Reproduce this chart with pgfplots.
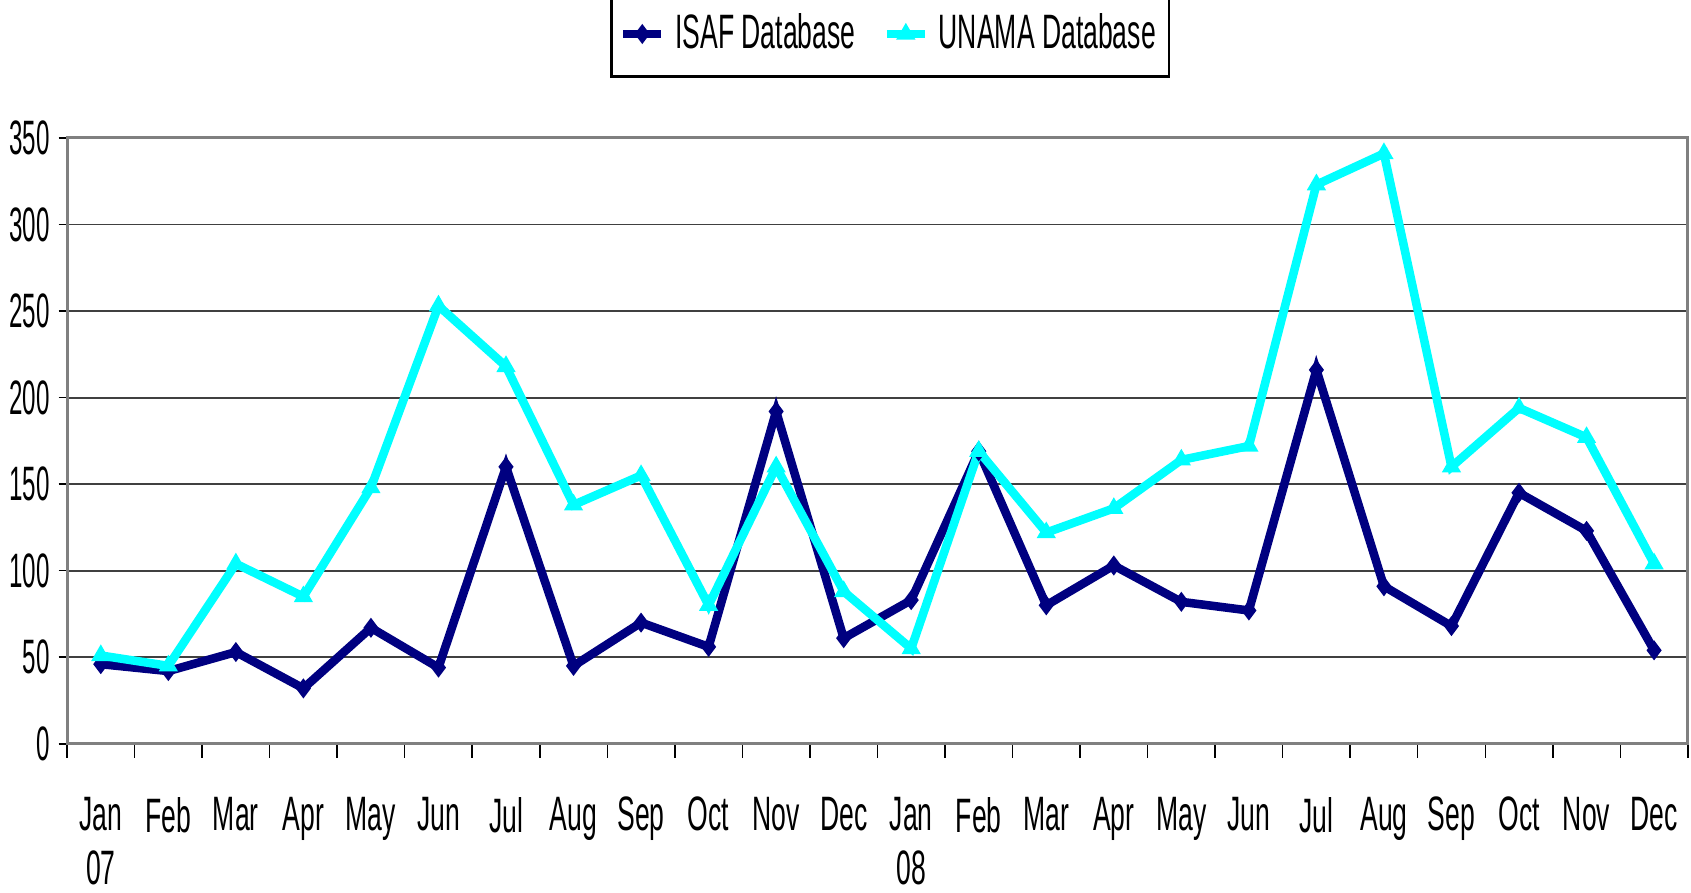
\documentclass[border=0pt]{standalone}
\usepackage{fontspec}
\setmainfont{Liberation Sans}
\usepackage{graphicx}
\usepackage{pgfplots}
\pgfplotsset{compat=1.18}
\usetikzlibrary{calc}
\definecolor{isaf}{HTML}{000080}
\definecolor{unama}{HTML}{00FFFF}
% narrow text, like Arial Narrow
\newcommand{\nar}[1]{\scalebox{0.55}[1]{#1}}

\begin{document}
\begin{tikzpicture}
\begin{axis}[
  name=ax,
  scale only axis,
  width=15.33cm, height=5.73cm,
  xmin=-0.5, xmax=23.5,
  ymin=0, ymax=350,
  ytick={0,50,...,350},
  xtick={0,...,23},
  xticklabels={{\nar{Jan}\\\nar{07}},\nar{Feb},\nar{Mar},\nar{Apr},\nar{May},\nar{Jun},\nar{Jul},\nar{Aug},\nar{Sep},\nar{Oct},\nar{Nov},\nar{Dec},
               {\nar{Jan}\\\nar{08}},\nar{Feb},\nar{Mar},\nar{Apr},\nar{May},\nar{Jun},\nar{Jul},\nar{Aug},\nar{Sep},\nar{Oct},\nar{Nov},\nar{Dec}},
  yticklabel={\scalebox{0.5}[1]{\pgfmathprintnumber{\tick}}},
  minor xtick={-0.5,0.5,...,23.5},
  major x tick style={draw=none},
  minor x tick style={black, thin},
  minor tick length=0.13cm,
  y tick style={black, thin},
  major tick length=0.08cm,
  tick align=outside,
  xtick pos=bottom, ytick pos=left,
  ymajorgrids,
  grid style={black!75, line width=0.5pt},
  axis line style={gray, line width=0.8pt},
  /pgf/number format/assume math mode=true,
  tick label style={font=\fontsize{13}{14.5}\selectfont},
  xticklabel style={align=center, anchor=north, yshift=-0.3cm},
  yticklabel style={xshift=0.04cm},
  legend style={at={(0.508,1)}, anchor=south, yshift=0.57cm,
    draw=black, line width=0.6pt, fill=white,
    font=\fontsize{13}{15}\selectfont,
    legend columns=2, column sep=1pt,
    /tikz/every even column/.append style={column sep=5.7pt},
    nodes={inner xsep=1.6pt},
    inner xsep=2pt, inner ysep=4pt},
  legend cell align=left,
  legend image code/.code={
    \draw[mark repeat=2, mark phase=2] plot coordinates {(0cm,0cm) (0.18cm,0cm) (0.36cm,0cm)};},
]
\addplot[isaf, line width=2.3pt, mark=diamond*, mark size=2.3pt,
  mark options={solid, fill=isaf, line width=0.5pt}] coordinates {
  (0,46) (1,42) (2,53) (3,32) (4,67) (5,44) (6,160) (7,45) (8,70) (9,56)
  (10,192) (11,61) (12,83) (13,169) (14,80) (15,103) (16,82) (17,77)
  (18,216) (19,91) (20,68) (21,145) (22,123) (23,54)
};
\addlegendentry{\nar{ISAF Database}}
\addplot[unama, line width=2.3pt, mark=triangle*, mark size=2.5pt,
  mark options={solid, fill=unama, line width=0.5pt}] coordinates {
  (0,51) (1,45) (2,104) (3,85) (4,148) (5,253) (6,218) (7,138) (8,155) (9,80)
  (10,160) (11,88) (12,55) (13,169) (14,122) (15,136) (16,164) (17,172)
  (18,323) (19,341) (20,160) (21,194) (22,177) (23,104)
};
\addlegendentry{\nar{UNAMA Database}}
\end{axis}
\pgfresetboundingbox
\path ($(ax.south west)+(-0.634,-1.41)$) rectangle ($(ax.north east)+(0.03,1.305)$);
\end{tikzpicture}
\end{document}
